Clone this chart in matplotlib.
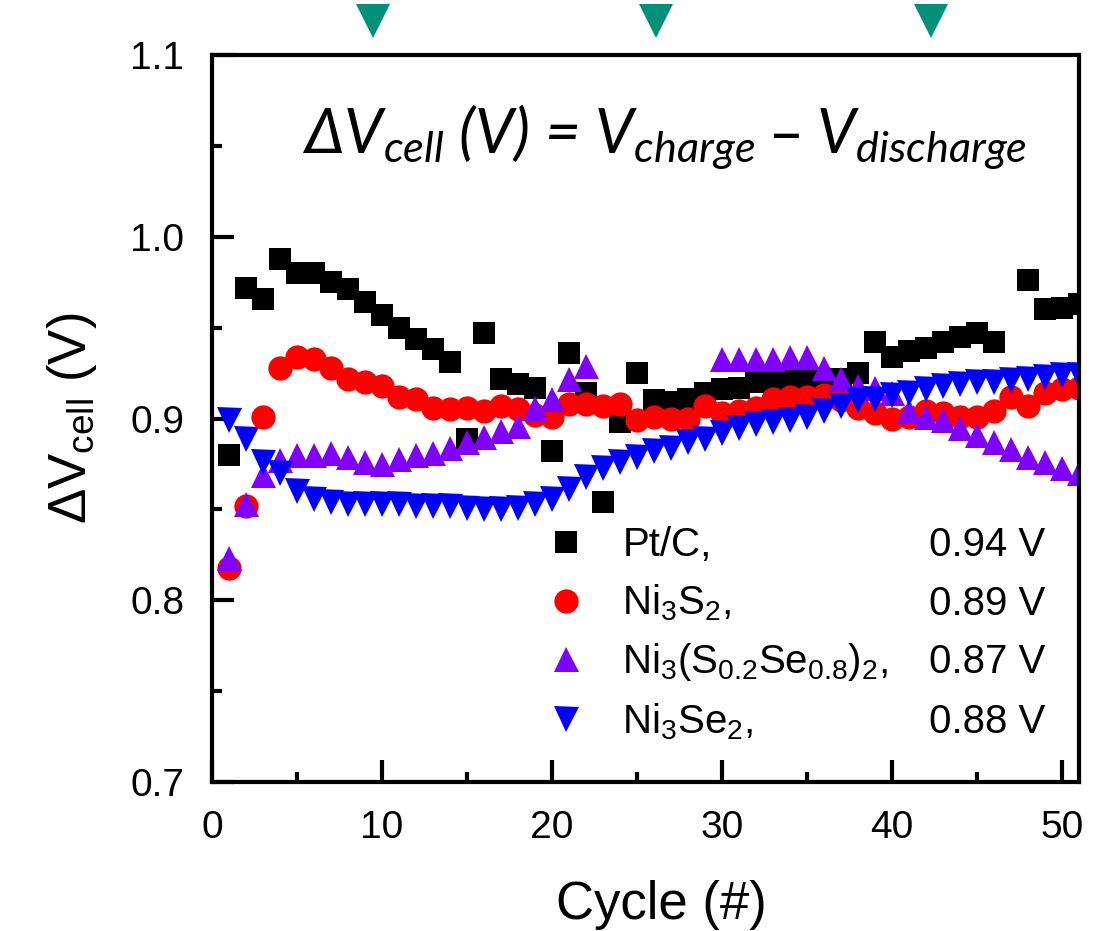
import numpy as np
import matplotlib
matplotlib.use('Agg')
from matplotlib import pyplot as plt
from matplotlib.ticker import MultipleLocator, FormatStrFormatter

plt.rcParams['font.family'] = ['Liberation Sans', 'DejaVu Sans']
plt.rcParams['mathtext.default'] = 'regular'

# data
cycle = list(range(1, 52))
nan = np.nan
ptc = [0.880, 0.972, 0.966, 0.988, 0.980, 0.980, 0.975, 0.971, 0.964, 0.957,
       0.950, 0.944, 0.938, 0.931, 0.889, 0.947, 0.922, 0.919, 0.917, 0.882,
       0.936, 0.914, 0.854, 0.898, 0.925, 0.910, 0.909, 0.911, 0.914, 0.916,
       0.917, 0.920, 0.920, 0.921, 0.921, 0.922, 0.922, 0.925, 0.942, 0.934,
       0.937, 0.939, 0.942, 0.945, 0.947, 0.942, nan, 0.976, 0.960, 0.961,
       0.963]
ni3s2 = [0.818, 0.852, 0.901, 0.928, 0.934, 0.933, 0.928, 0.922, 0.920, 0.918,
         0.912, 0.911, 0.906, 0.905, 0.906, 0.904, 0.907, 0.905, 0.902, 0.901,
         0.908, 0.908, 0.907, 0.908, 0.899, 0.901, 0.900, 0.900, 0.907, 0.903,
         0.904, 0.906, 0.911, 0.912, 0.912, 0.913, 0.910, 0.906, 0.903, 0.900,
         0.901, 0.904, 0.903, 0.901, 0.901, 0.904, 0.912, 0.907, 0.914, 0.916,
         0.917]
ni3sse = [0.823, 0.853, 0.869, 0.877, 0.880, 0.880, 0.881, 0.879, 0.876, 0.875,
          0.878, 0.880, 0.881, 0.884, 0.887, 0.890, 0.893, 0.896, 0.906, 0.911,
          0.922, 0.929, nan, nan, nan, nan, nan, nan, nan, 0.933,
          0.933, 0.933, 0.933, 0.934, 0.934, 0.928, 0.922, 0.918, 0.917, 0.914,
          0.904, 0.901, 0.899, 0.895, 0.891, 0.887, 0.883, 0.879, 0.876, 0.873,
          0.870]
ni3se2 = [0.899, 0.889, 0.876, 0.870, 0.860, 0.856, 0.854, 0.853, 0.853, 0.853,
          0.853, 0.852, 0.852, 0.852, 0.851, 0.850, 0.850, 0.851, 0.853, 0.856,
          0.861, 0.868, 0.873, 0.876, 0.879, 0.882, 0.884, 0.887, 0.889, 0.892,
          0.895, 0.897, 0.898, 0.899, 0.901, 0.904, 0.907, 0.910, 0.911, 0.913,
          0.914, 0.916, 0.918, 0.919, 0.920, 0.920, 0.921, 0.922, 0.923, 0.924,
          0.924]

labels = ['Pt/C,', 'Ni$_3$S$_2$,', 'Ni$_3$(S$_{0.2}$Se$_{0.8}$)$_2$,', 'Ni$_3$Se$_2$,']
avg_labels = ['0.94 V', '0.89 V', '0.87 V', '0.88 V']
top_marks = [9.5, 26.1, 42.3]

fig = plt.figure(figsize=(11.12, 9.31), dpi=100)
ax = fig.add_axes([0.1906, 0.16, 0.7797, 0.7809])

ax.plot(cycle, ptc, 's', color='black', ms=15.5, mew=0, label=labels[0])
ax.plot(cycle, ni3s2, 'o', color='#ff0000', ms=17.5, mew=0, label=labels[1])
ax.plot(cycle, ni3sse, '^', color='#8000ff', ms=18, mew=0, label=labels[2])
ax.plot(cycle, ni3se2, 'v', color='#0000ff', ms=18, mew=0, label=labels[3])

# green markers above the frame
ax.plot(top_marks, [1.047] * len(top_marks), 'v', color='#00917a', ms=25, mew=0,
        transform=ax.get_xaxis_transform(), clip_on=False)

ax.set_xlim(0, 51)
ax.set_ylim(0.7, 1.1)
ax.xaxis.set_major_locator(MultipleLocator(10))
ax.xaxis.set_minor_locator(MultipleLocator(5))
ax.yaxis.set_major_locator(MultipleLocator(0.1))
ax.yaxis.set_minor_locator(MultipleLocator(0.05))
ax.yaxis.set_major_formatter(FormatStrFormatter('%.1f'))
ax.tick_params(which='both', direction='in', top=False, right=False, width=3, labelsize=28, pad=20)
ax.tick_params(which='major', length=16)
ax.tick_params(which='minor', length=7)
for s in ax.spines.values():
    s.set_linewidth(3)

ax.set_xlabel('Cycle (#)', fontsize=38)
ax.xaxis.set_label_coords(0.518, -0.135)
ax.set_ylabel('ΔV$_{cell}$ (V)', fontsize=38)
ax.yaxis.set_label_coords(-0.13, 0.5)

ax.text(0.522, 0.866, 'ΔV$_{cell}$ (V) = V$_{charge}$ – V$_{discharge}$',
        transform=ax.transAxes, ha='center', va='baseline', fontsize=44.5,
        family=['Lato', 'DejaVu Sans'], style='italic')

leg = ax.legend(loc='lower left', bbox_to_anchor=(0.385, 0.055), frameon=False,
                fontsize=29, numpoints=1, handlelength=1.0, handletextpad=0.9,
                labelspacing=0.45, borderpad=0, borderaxespad=0)

fig.canvas.draw()
for t, v in zip(leg.get_texts(), avg_labels):
    xd, yd = t.get_transform().transform(t.get_position())
    ya = ax.transAxes.inverted().transform((xd, yd))[1]
    ax.text(0.961, ya, v, transform=ax.transAxes, ha='right', va='baseline', fontsize=29)

fig.savefig('out.png', dpi=100)
